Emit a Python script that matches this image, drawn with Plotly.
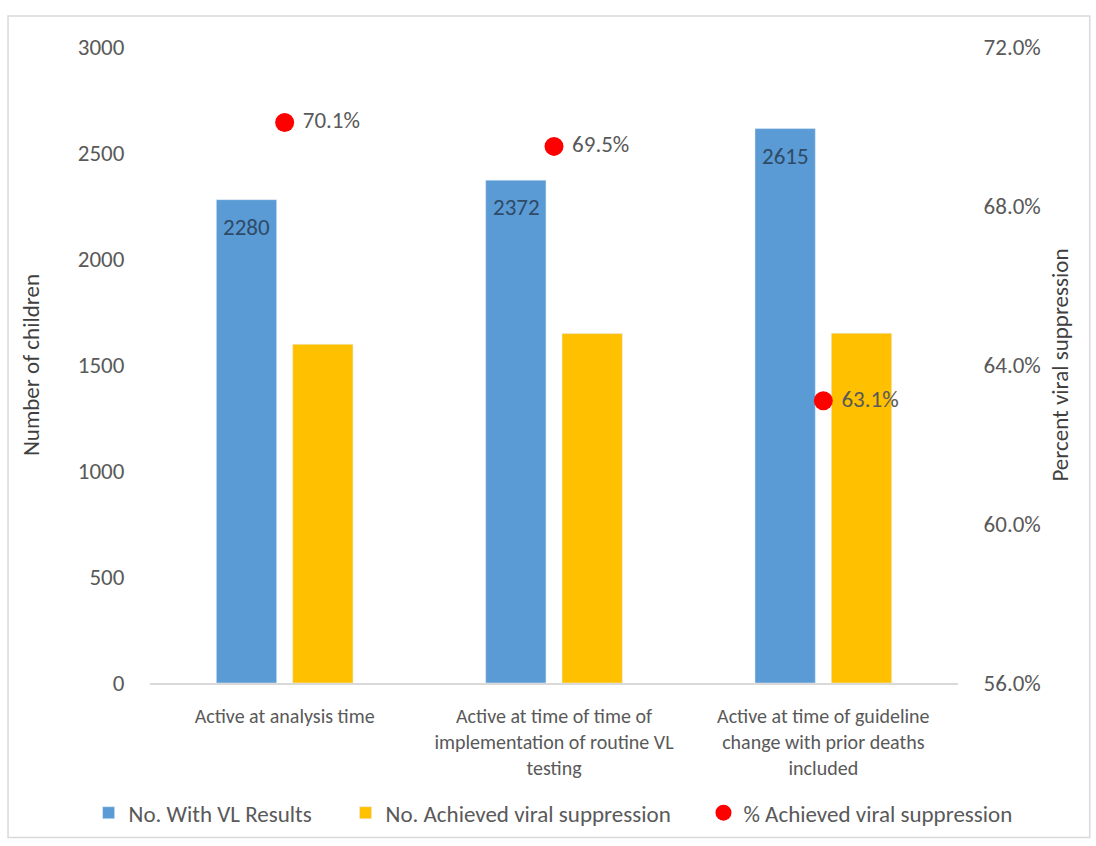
import plotly.graph_objects as go

categories = [
    "Active at analysis time",
    "Active at time of time of<br>implementation of routine VL<br>testing",
    "Active at time of guideline<br>change with prior deaths<br>included",
]
with_vl_results = [2280, 2372, 2615]
achieved_suppression = [1598, 1648, 1650]
pct_suppression = [70.1, 69.5, 63.1]

left_ticks = [0, 500, 1000, 1500, 2000, 2500, 3000]
right_ticks = [56, 60, 64, 68, 72]

FONT = "Carlito, Calibri, Lato, sans-serif"
BLUE = "#5B9BD5"
YELLOW = "#FFC000"
RED = "#FF0000"
GREY_TEXT = "#595959"

fig = go.Figure()
fig.add_trace(go.Bar(
    x=categories, y=with_vl_results, name="No. With VL Results",
    marker=dict(color=BLUE), yaxis="y", legend="legend",
))
fig.add_trace(go.Bar(
    x=categories, y=achieved_suppression, name="No. Achieved viral suppression",
    marker=dict(color=YELLOW), yaxis="y", legend="legend2",
))
fig.add_trace(go.Scatter(
    x=categories, y=pct_suppression, name="% Achieved viral suppression",
    mode="markers+text", yaxis="y2", legend="legend3",
    marker=dict(color=RED, size=19),
    text=[f"\u00a0{v:.1f}%" for v in pct_suppression],
    textposition="middle right",
    textfont=dict(family=FONT, size=23, color=GREY_TEXT),
))

# value labels inside the top of the blue bars
for cat, v in zip(categories, with_vl_results):
    fig.add_annotation(
        x=cat, y=v, xref="x", yref="y", text=str(v), showarrow=False,
        xshift=-38, yanchor="top", yshift=-11,
        font=dict(family=FONT, size=23, color="#2E4A66"),
    )

# chart border
fig.add_shape(
    type="rect", xref="paper", yref="paper",
    x0=-0.1757, x1=1.163, y0=-0.243, y1=1.0486,
    line=dict(color="#D9D9D9", width=1.5), fillcolor="rgba(0,0,0,0)", layer="below",
)

legend_style = dict(
    orientation="h", xanchor="left", y=-0.204, yanchor="middle",
    font=dict(size=23, color=GREY_TEXT), itemwidth=30,
    bgcolor="rgba(0,0,0,0)",
)

fig.update_layout(
    width=1096, height=846,
    margin=dict(l=150, r=138, t=47, b=161),
    paper_bgcolor="white", plot_bgcolor="white",
    barmode="group", bargap=0.433, bargroupgap=0.21,
    font=dict(family=FONT, size=20, color=GREY_TEXT),
    xaxis=dict(
        showline=True, linecolor="#D9D9D9", linewidth=1.5,
        ticks="outside", ticklen=14, tickcolor="rgba(0,0,0,0)",
        tickfont=dict(size=20, color=GREY_TEXT),
    ),
    yaxis=dict(
        range=[0, 3000], tickvals=left_ticks, showgrid=False, zeroline=False,
        showline=False, ticks="outside", ticklen=20, tickcolor="rgba(0,0,0,0)",
        tickfont=dict(size=23, color=GREY_TEXT),
        title=dict(text="Number of children", font=dict(size=23, color="#404040"), standoff=31),
    ),
    yaxis2=dict(
        range=[56, 72], tickvals=right_ticks,
        ticktext=[f"{v:.1f}%" for v in right_ticks],
        overlaying="y", side="right",
        showgrid=False, zeroline=False, showline=False,
        ticks="outside", ticklen=20, tickcolor="rgba(0,0,0,0)",
        tickfont=dict(size=23, color=GREY_TEXT),
        title=dict(text="Percent viral suppression", font=dict(size=23, color="#404040"), standoff=12),
    ),
    legend=dict(legend_style, x=-0.076),
    legend2=dict(legend_style, x=0.242),
    legend3=dict(legend_style, x=0.685),
    showlegend=True,
)

fig.write_html("out.html")
